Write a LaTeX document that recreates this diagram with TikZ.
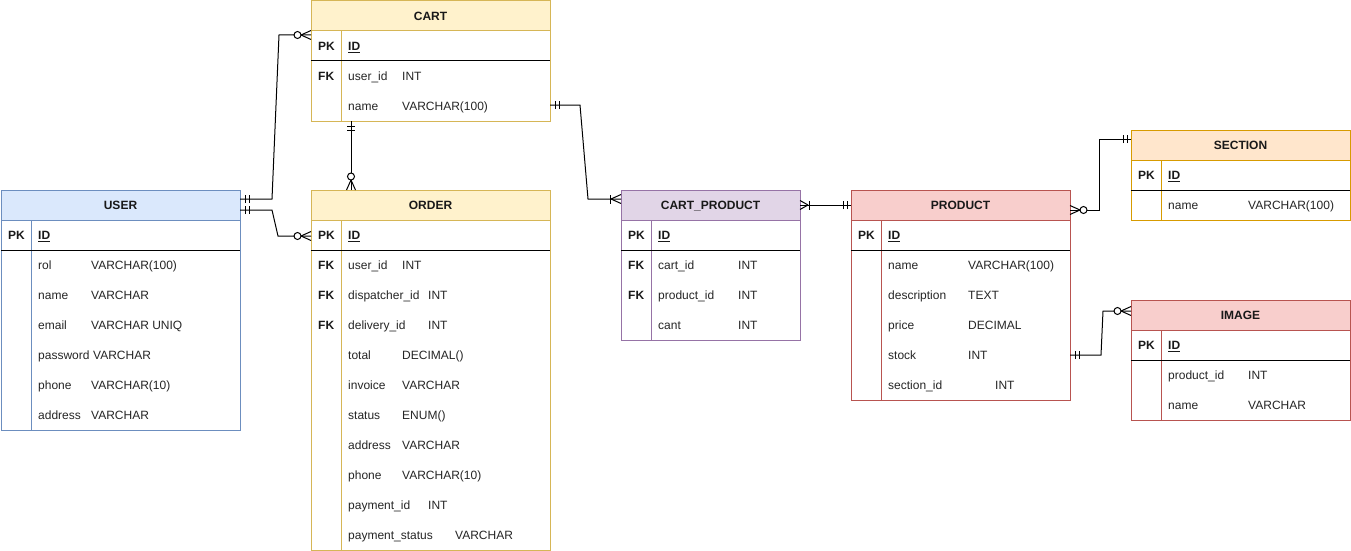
\documentclass[tikz,border=0pt]{standalone}
\usepackage{fontspec}
\setmainfont{Liberation Sans}
\usepackage{tikz}
\usetikzlibrary{calc,decorations.markings}
\definecolor{bluefill}{RGB}{218, 232, 252}
\definecolor{blueline}{RGB}{108, 142, 191}
\definecolor{yellowfill}{RGB}{255, 242, 204}
\definecolor{yellowline}{RGB}{214, 182, 86}
\definecolor{purplefill}{RGB}{225, 213, 231}
\definecolor{purpleline}{RGB}{150, 115, 166}
\definecolor{redfill}{RGB}{248, 206, 204}
\definecolor{redline}{RGB}{184, 84, 80}
\definecolor{orangefill}{RGB}{255, 230, 204}
\definecolor{orangeline}{RGB}{215, 155, 0}
\newcommand{\erfont}{\fontsize{12pt}{14pt}\selectfont}
% table: name, left, top, width, height, colour, title
\newcommand{\ertable}[7]{%
  \node[tbody, draw=#6line, minimum width=#4pt, minimum height=#5pt] (#1) at (#2,#3) {};
  \node[thead, fill=#6fill, draw=#6line, minimum width=#4pt] (#1-h) at (#2,#3) {#7};
  \draw[line width=1pt, #6line] ([xshift=30pt]#1-h.south west) -- ([xshift=30pt]#1.south west);
  \draw[line width=1pt] ([yshift=-30pt]#1-h.south west) -- ([yshift=-30pt]#1-h.south east);
  \node[keytext] (#1-pk) at ([xshift=7pt,yshift=-49.3pt]#1-h.north west) {PK};
  \node[keytext] (#1-id) at ([xshift=37pt,yshift=-49.3pt]#1-h.north west) {\underline{ID}};
}
% row: table, row, field, type offset, type
\newcommand{\errow}[5]{%
  \node[fieldtext] (#1-#2f) at ([xshift=37pt,yshift={-49.3pt-30pt*#2}]#1-h.north west) {#3};
  \node[fieldtext] (#1-#2t) at ([xshift=#4pt,yshift={-49.3pt-30pt*#2}]#1-h.north west) {#5};
}
\newcommand{\erfk}[2]{%
  \node[keytext] (#1-#2k) at ([xshift=7pt,yshift={-49.3pt-30pt*#2}]#1-h.north west) {FK};
}
\begin{document}
\begin{tikzpicture}[x=1pt, y=-1pt,
  tbody/.style={anchor=north west, fill=white, line width=1pt, inner sep=0pt, outer sep=0pt},
  thead/.style={anchor=north west, line width=1pt, minimum height=30pt, inner sep=0pt, outer sep=0pt,
    font=\erfont\bfseries, text=black!90, text height=8.6pt, text depth=0pt},
  keytext/.style={anchor=base west, inner sep=0pt, font=\erfont\bfseries, text=black!90},
  fieldtext/.style={anchor=base west, inner sep=0pt, font=\erfont, text=black!85},
  conn/.style={draw=black, line width=1pt},
  onestart/.style={postaction={decorate, decoration={markings,
    mark=at position 5pt with {\draw[line width=1pt] (0,-4pt) -- (0,4pt);},
    mark=at position 9pt with {\draw[line width=1pt] (0,-4pt) -- (0,4pt);}}}},
  oneend/.style={postaction={decorate, decoration={markings,
    mark=at position -4pt with {\draw[line width=1pt] (0,-4pt) -- (0,4pt);},
    mark=at position -8pt with {\draw[line width=1pt] (0,-4pt) -- (0,4pt);}}}},
  zmanystart/.style={postaction={decorate, decoration={markings,
    mark=at position 10pt with {\draw[line width=1pt] (0,0) -- (-10pt,4.5pt) (0,0) -- (-10pt,-4.5pt);},
    mark=at position 13.5pt with {\draw[line width=1pt, fill=white] (0,0) circle (3.5pt);}}}},
  zmanyend/.style={postaction={decorate, decoration={markings,
    mark=at position -10pt with {\draw[line width=1pt] (0,0) -- (10pt,4.5pt) (0,0) -- (10pt,-4.5pt);},
    mark=at position -13.5pt with {\draw[line width=1pt, fill=white] (0,0) circle (3.5pt);}}}},
  omanystart/.style={postaction={decorate, decoration={markings,
    mark=at position 8pt with {\draw[line width=1pt] (0,0) -- (-8pt,4.5pt) (0,0) -- (-8pt,-4.5pt);},
    mark=at position 9pt with {\draw[line width=1pt] (0,-4.5pt) -- (0,4.5pt);}}}},
  omanyend/.style={postaction={decorate, decoration={markings,
    mark=at position -10pt with {\draw[line width=1pt] (0,0) -- (10pt,4.5pt) (0,0) -- (10pt,-4.5pt);},
    mark=at position -11pt with {\draw[line width=1pt] (0,-4.5pt) -- (0,4.5pt);}}}}]
  \useasboundingbox (0,0) rectangle (1351,551);

  % USER
  \ertable{user}{1}{190}{239}{240}{blue}{USER}
  \errow{user}{1}{rol}{90}{VARCHAR(100)}
  \errow{user}{2}{name}{90}{VARCHAR}
  \errow{user}{3}{email}{90}{VARCHAR UNIQ}
  \errow{user}{4}{password}{92}{VARCHAR}
  \errow{user}{5}{phone}{90}{VARCHAR(10)}
  \errow{user}{6}{address}{90}{VARCHAR}

  % CART
  \ertable{cart}{311}{1}{239}{120}{yellow}{CART}
  \erfk{cart}{1}
  \errow{cart}{1}{user\_id}{91}{INT}
  \errow{cart}{2}{name}{91}{VARCHAR(100)}

  % ORDER
  \ertable{order}{311}{190}{239}{360}{yellow}{ORDER}
  \erfk{order}{1} \erfk{order}{2} \erfk{order}{3}
  \errow{order}{1}{user\_id}{91}{INT}
  \errow{order}{2}{dispatcher\_id}{117}{INT}
  \errow{order}{3}{delivery\_id}{117}{INT}
  \errow{order}{4}{total}{91}{DECIMAL()}
  \errow{order}{5}{invoice}{91}{VARCHAR}
  \errow{order}{6}{status}{91}{ENUM()}
  \errow{order}{7}{address}{91}{VARCHAR}
  \errow{order}{8}{phone}{91}{VARCHAR(10)}
  \errow{order}{9}{payment\_id}{117}{INT}
  \errow{order}{10}{payment\_status}{144}{VARCHAR}

  % CART_PRODUCT
  \ertable{cp}{621}{190}{179}{150}{purple}{CART\_PRODUCT}
  \erfk{cp}{1} \erfk{cp}{2}
  \errow{cp}{1}{cart\_id}{117}{INT}
  \errow{cp}{2}{product\_id}{117}{INT}
  \errow{cp}{3}{cant}{117}{INT}

  % PRODUCT
  \ertable{product}{851}{190}{219}{210}{red}{PRODUCT}
  \errow{product}{1}{name}{117}{VARCHAR(100)}
  \errow{product}{2}{description}{117}{TEXT}
  \errow{product}{3}{price}{117}{DECIMAL}
  \errow{product}{4}{stock}{117}{INT}
  \errow{product}{5}{section\_id}{144}{INT}

  % SECTION
  \ertable{section}{1131}{130}{219}{90}{orange}{SECTION}
  \errow{section}{1}{name}{117}{VARCHAR(100)}

  % IMAGE
  \ertable{image}{1131}{300}{219}{120}{red}{IMAGE}
  \errow{image}{1}{product\_id}{117}{INT}
  \errow{image}{2}{name}{117}{VARCHAR}

  % Relations
  \draw[conn, onestart, zmanyend] ([yshift=6pt]user-h.east) -- ++(32,0)
    -- ([xshift=-32pt,yshift=-4pt]cart-h.south west) -- ([yshift=-4pt]cart-h.south west);
  \draw[conn, onestart, zmanyend] ([yshift=-5pt]user-h.east) -- ++(32,0)
    -- ([xshift=-33pt,yshift=-16pt]order-h.south west) -- ([yshift=-16pt]order-h.south west);
  \draw[conn, onestart, zmanyend] ([xshift=40pt]cart.south west) -- ([xshift=40pt]order-h.north west);
  \draw[conn, onestart, omanyend] ([yshift=16pt]cart.south east) -- ++(30,0)
    -- ([xshift=-33pt,yshift=6pt]cp-h.west) -- ([yshift=6pt]cp-h.west);
  \draw[conn, omanystart, oneend] (cp-h.east) -- (product-h.west);
  \draw[conn, zmanystart, oneend] ([yshift=-5pt]product-h.east) -- ++(29,0)
    -- ([xshift=-32pt,yshift=6pt]section-h.west) -- ([yshift=6pt]section-h.west);
  \draw[conn, onestart, zmanyend] ([yshift=45pt]product.south east) -- ++(31,0)
    -- ([xshift=-28pt,yshift=4pt]image-h.west) -- ([yshift=4pt]image-h.west);
\end{tikzpicture}
\end{document}
